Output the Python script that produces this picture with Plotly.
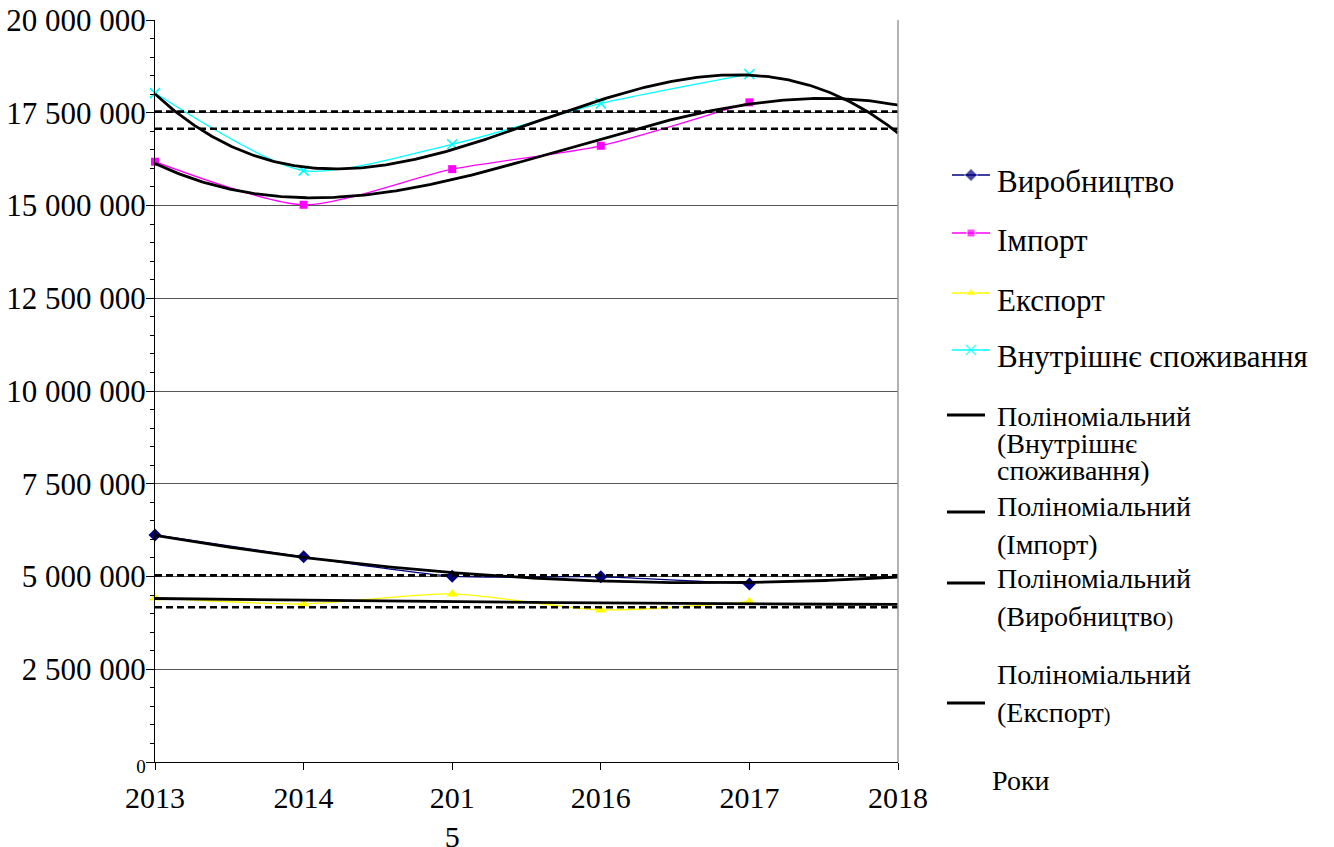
import numpy as np
import plotly.graph_objects as go

# ---- data ---------------------------------------------------------------
years = [2013, 2014, 2015, 2016, 2017]
axis_years = [2013, 2014, 2015, 2016, 2017, 2018]
year_labels = ["2013", "2014", "201<br>5", "2016", "2017", "2018"]

production = [6120000, 5530000, 5010000, 4990000, 4800000]      # Виробництво
imports = [16180000, 15020000, 15980000, 16610000, 17780000]    # Імпорт
exports = [4420000, 4260000, 4530000, 4100000, 4320000]         # Експорт
consumption = [18030000, 15940000, 16650000, 17750000, 18540000]  # Внутрішнє споживання

# forecast levels for 2018, drawn as dashed guide lines
forecast_levels = [17530000, 17070000, 5030000, 4170000]

y_ticks = [0, 2500000, 5000000, 7500000, 10000000, 12500000, 15000000, 17500000, 20000000]
y_tick_labels = ['<span style="font-size:19px">0</span>', "2 500 000", "5 000 000", "7 500 000",
                 "10 000 000", "12 500 000", "15 000 000", "17 500 000", "20 000 000"]

series_names = ["Виробництво", "Імпорт", "Експорт", "Внутрішнє споживання"]

# ---- page geometry ------------------------------------------------------
W, H = 1334, 847
L, R, T, B = 155, 898, 20, 762
FONT = "'Liberation Serif', 'Times New Roman', serif"


def trend(values, order):
    """Polynomial trend fitted to the yearly values, extended one year ahead."""
    t = np.array(years, dtype=float) - years[0]
    coef = np.polyfit(t, np.array(values, dtype=float), order)
    tt = np.linspace(0, axis_years[-1] - years[0], 300)
    return tt + years[0], np.polyval(coef, tt)


fig = go.Figure()

# observed series
styles = [
    (production, "#000080", dict(symbol="diamond", size=10, color="#000080")),
    (imports, "#FF00FF", dict(symbol="square", size=8, color="#FF00FF")),
    (exports, "#FFFF00", dict(symbol="triangle-up", size=10, color="#FFFF00")),
    (consumption, "#00FFFF", dict(symbol="x-thin", size=10,
                                  line=dict(width=1.6, color="#00FFFF"))),
]
for (vals, col, mk), name in zip(styles, series_names):
    fig.add_trace(go.Scatter(
        x=years, y=vals, name=name, mode="lines+markers",
        line=dict(color=col, width=1.3, shape="spline", smoothing=0.7),
        marker=mk, showlegend=False, cliponaxis=False))

# dashed forecast levels
for lvl in forecast_levels:
    fig.add_trace(go.Scatter(
        x=[axis_years[0], axis_years[-1]], y=[lvl, lvl], mode="lines",
        line=dict(color="black", width=2.6, dash="7px,4px"),
        showlegend=False, hoverinfo="skip"))

# polynomial trends
for vals, order in [(consumption, 3), (imports, 3), (production, 2), (exports, 2)]:
    tx, ty = trend(vals, order)
    fig.add_trace(go.Scatter(
        x=tx, y=ty, mode="lines", line=dict(color="black", width=2.8),
        showlegend=False, hoverinfo="skip", cliponaxis=False))

# ---- hand-built legend on a full-page pixel overlay -----------------------
legend_items = [
    # (sample kind, sample y, [(text, text y, font size)])
    (0, 175, [("Виробництво", 182, 31)]),
    (1, 233, [("Імпорт", 240, 31)]),
    (2, 293, [("Експорт", 300, 31)]),
    (3, 350, [("Внутрішнє споживання", 357, 31)]),
    (None, 415, [("Поліноміальний", 416, 28), ("(Внутрішнє", 443, 28), ("споживання)", 470, 28)]),
    (None, 512, [("Поліноміальний", 507, 28), ("(Імпорт)", 544, 28)]),
    (None, 583, [("Поліноміальний", 578, 28),
                 ('(Виробництво<span style="font-size:20px">)</span>', 616, 28)]),
    (None, 703, [("Поліноміальний", 674, 28),
                 ('(Експорт<span style="font-size:20px">)</span>', 712, 28)]),
]

annotations = []
for kind, sy, lines in legend_items:
    if kind is None:
        fig.add_trace(go.Scatter(
            x=[947, 985], y=[sy, sy], mode="lines", xaxis="x2", yaxis="y2",
            line=dict(color="black", width=3), showlegend=False, hoverinfo="skip"))
    else:
        vals, col, mk = styles[kind]
        mk = dict(mk)
        mk["size"] = [0, mk["size"], 0]
        fig.add_trace(go.Scatter(
            x=[952, 971, 990], y=[sy, sy, sy], mode="lines+markers", xaxis="x2", yaxis="y2",
            line=dict(color=col, width=1.3), marker=mk, showlegend=False, hoverinfo="skip"))
    for text, ty, fs in lines:
        annotations.append(dict(
            x=995 / W, y=1 - ty / H, xref="paper", yref="paper", text=text,
            xanchor="left", yanchor="middle", showarrow=False,
            font=dict(family=FONT, size=fs, color="black")))

annotations.append(dict(
    x=990 / W, y=1 - 780 / H, xref="paper", yref="paper", text="Роки",
    xanchor="left", yanchor="middle", showarrow=False,
    font=dict(family=FONT, size=28, color="black")))

fig.update_layout(
    width=W, height=H, autosize=False,
    margin=dict(l=0, r=0, t=0, b=0, autoexpand=False),
    paper_bgcolor="white", plot_bgcolor="rgba(0,0,0,0)",
    font=dict(family=FONT, color="black"),
    xaxis=dict(
        domain=[L / W, R / W], range=[axis_years[0], axis_years[-1]],
        tickmode="array", tickvals=axis_years, ticktext=year_labels,
        ticks="outside", ticklen=7, tickcolor="black", tickwidth=1,
        showline=True, linecolor="black", linewidth=1.2, automargin=False,
        showgrid=False, zeroline=False, ticklabelstandoff=2,
        tickfont=dict(family=FONT, size=30, color="black"),
    ),
    yaxis=dict(
        domain=[1 - B / H, 1 - T / H], range=[0, 20000000],
        tickmode="array", tickvals=y_ticks, ticktext=y_tick_labels,
        ticks="outside", ticklen=8, tickcolor="black", tickwidth=1,
        minor=dict(ticks="outside", ticklen=4, tickcolor="black", dtick=500000,
                   tick0=0, showgrid=False),
        showline=True, linecolor="black", linewidth=1.2, automargin=False,
        showgrid=True, gridcolor="#555555", gridwidth=1, zeroline=False,
        ticklabelstandoff=-6,
        tickfont=dict(family=FONT, size=31, color="black"),
    ),
    xaxis2=dict(domain=[0, 1], range=[0, W], visible=False, fixedrange=True,
                anchor="y2", automargin=False),
    yaxis2=dict(domain=[0, 1], range=[H, 0], visible=False, fixedrange=True,
                anchor="x2", automargin=False),
    annotations=annotations,
    shapes=[dict(type="line", xref="x domain", yref="y domain", x0=1, x1=1, y0=0, y1=1,
                 line=dict(color="#999999", width=1.5))],
)

fig.write_html("out.html")
